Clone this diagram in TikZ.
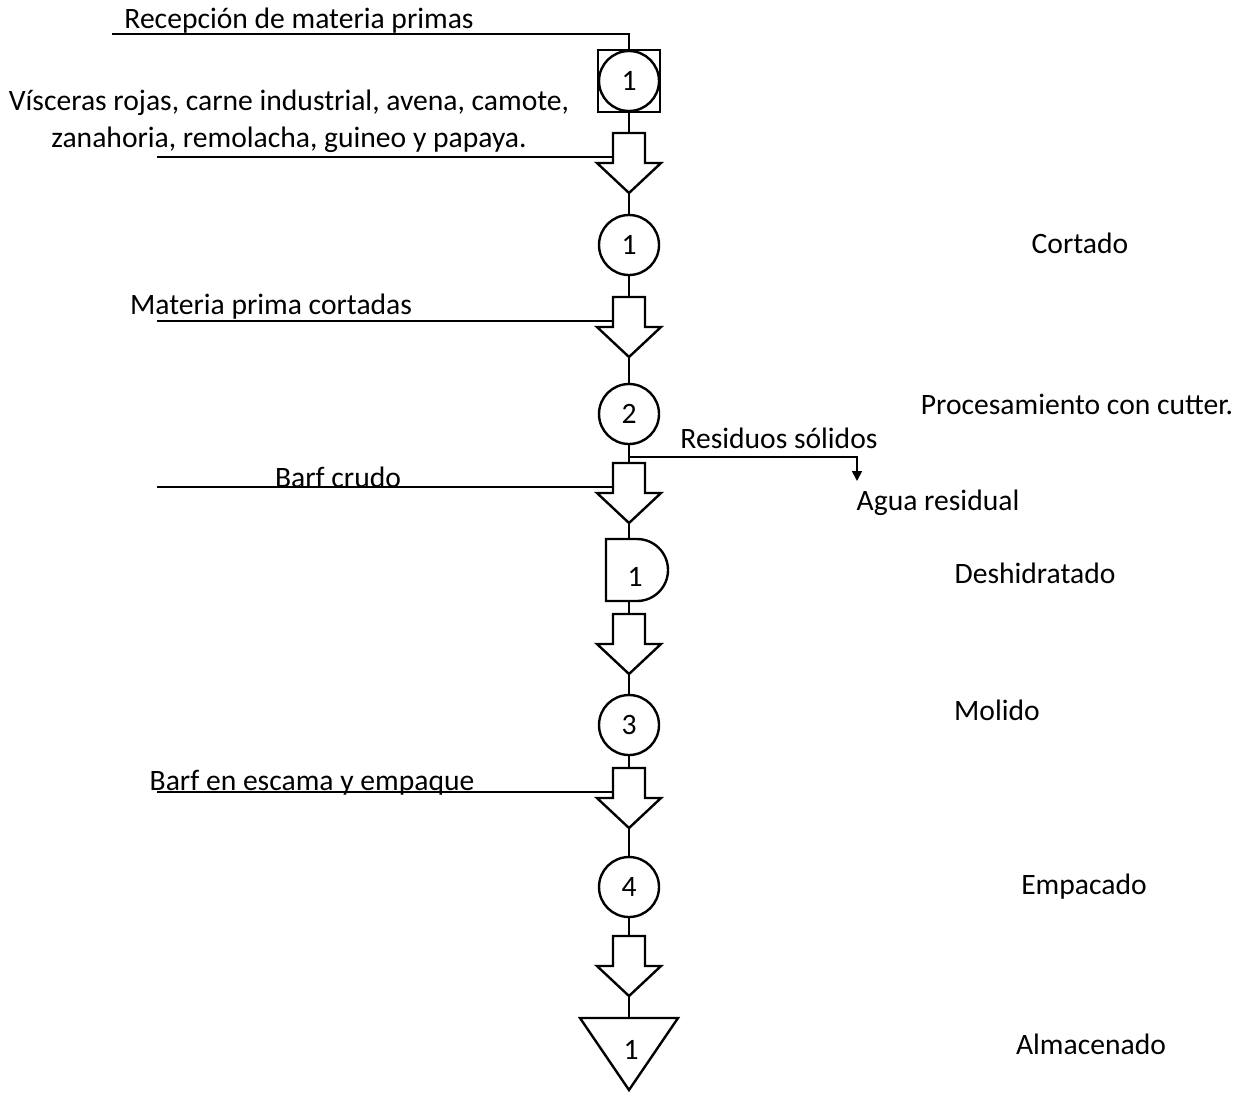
\documentclass[tikz,border=0pt]{standalone}
\usepackage{fontspec}
\setmainfont{Carlito}
\usetikzlibrary{arrows.meta}
\tikzset{
	forma/.style={draw,line width=1.2pt},
	linea/.style={line width=0.9pt},
	texto/.style={font=\fontsize{14.8}{18.5}\selectfont,inner sep=0pt},
	oper/.style={forma,circle,minimum size=30pt,inner sep=0pt,texto},
	flecha/.pic={
		\draw[forma] (-16,0) -- (16,0) -- (16,30) -- (32,30) -- (0,60) -- (-32,30) -- (-16,30) -- cycle;
		\coordinate (-top) at (0,0);
		\coordinate (-tip) at (0,60);
		\coordinate (-lado) at (-16,24);
	}
}
\begin{document}
\begin{tikzpicture}[x=0.5pt,y=-0.5pt,>={Triangle[length=5pt,width=5pt]}]
		\useasboundingbox (0,0) rectangle (1245,1092);
		% simbolos del diagrama
		\node[forma,minimum size=31pt,inner sep=0pt] (ins) at (629,81) {};
		\node[oper] (ins1) at (629,81) {1};
		\pic (f1) at (629,133) {flecha};
		\node[oper] (op1) at (629,245) {1};
		\pic (f2) at (629,297) {flecha};
		\node[oper] (op2) at (629,414) {2};
		\pic (f3) at (629,463) {flecha};
		\draw[forma] (606,539) -- (637,539) arc[start angle=-90,end angle=90,radius=31] -- (606,601) -- cycle;
		\coordinate (dem-top) at (629,539);
		\coordinate (dem-bot) at (629,601);
		\node[texto] (dem) at (635,577) {1};
		\pic (f4) at (629,614) {flecha};
		\node[oper] (op3) at (629,725) {3};
		\pic (f5) at (629,768) {flecha};
		\node[oper] (op4) at (629,887) {4};
		\pic (f6) at (629,936) {flecha};
		\draw[forma] (580,1018) -- (678,1018) -- (629,1090) -- cycle;
		\coordinate (alm-top) at (629,1018);
		\node[texto] (alm) at (631,1050) {1};
		% lineas de flujo
		\draw[linea] (ins.south) -- (f1-top);
		\draw[linea] (f1-tip) -- (op1.north);
		\draw[linea] (op1.south) -- (f2-top);
		\draw[linea] (f2-tip) -- (op2.north);
		\draw[linea] (op2.south) -- (f3-top);
		\draw[linea] (f3-tip) -- (dem-top);
		\draw[linea] (dem-bot) -- (f4-top);
		\draw[linea] (f4-tip) -- (op3.north);
		\draw[linea] (op3.south) -- (f5-top);
		\draw[linea] (f5-tip) -- (op4.north);
		\draw[linea] (op4.south) -- (f6-top);
		\draw[linea] (f6-tip) -- (alm-top);
		% entradas
		\coordinate (e0) at (112,34);
		\coordinate (e1) at (157,157);
		\coordinate (e2) at (157,321);
		\coordinate (e3) at (157,487);
		\coordinate (e5) at (157,792);
		\draw[linea] (e0) -| (ins.north);
		\draw[linea] (e1) -- (f1-lado);
		\draw[linea] (e2) -- (f2-lado);
		\draw[linea] (e3) -- (f3-lado);
		\draw[linea] (e5) -- (f5-lado);
		% salida de residuos
		\coordinate (res) at (629,457);
		\coordinate (agua) at (857,481);
		\draw[linea,->] (res) -| (agua);
		% textos
		\node[texto] (t0) at (299,21) {Recepción de materia primas};
		\node[texto,align=center] (t1) at (289,121) {Vísceras rojas, carne industrial, avena, camote,\\zanahoria, remolacha, guineo y papaya.};
		\node[texto] (t2) at (271,307) {Materia prima cortadas};
		\node[texto] (t3) at (338,477) {Barf crudo};
		\node[texto] (t5) at (312,783) {Barf en escama y empaque};
		\node[texto] (r1) at (779,438) {Residuos sólidos};
		\node[texto] (r2) at (938,503) {Agua residual};
		\node[texto] (d1) at (1080,243) {Cortado};
		\node[texto] (d2) at (1077,404) {Procesamiento con cutter.};
		\node[texto] (d3) at (1035,573) {Deshidratado};
		\node[texto] (d4) at (997,710) {Molido};
		\node[texto] (d5) at (1084,887) {Empacado};
		\node[texto] (d6) at (1091,1044) {Almacenado};
\end{tikzpicture}
\end{document}
